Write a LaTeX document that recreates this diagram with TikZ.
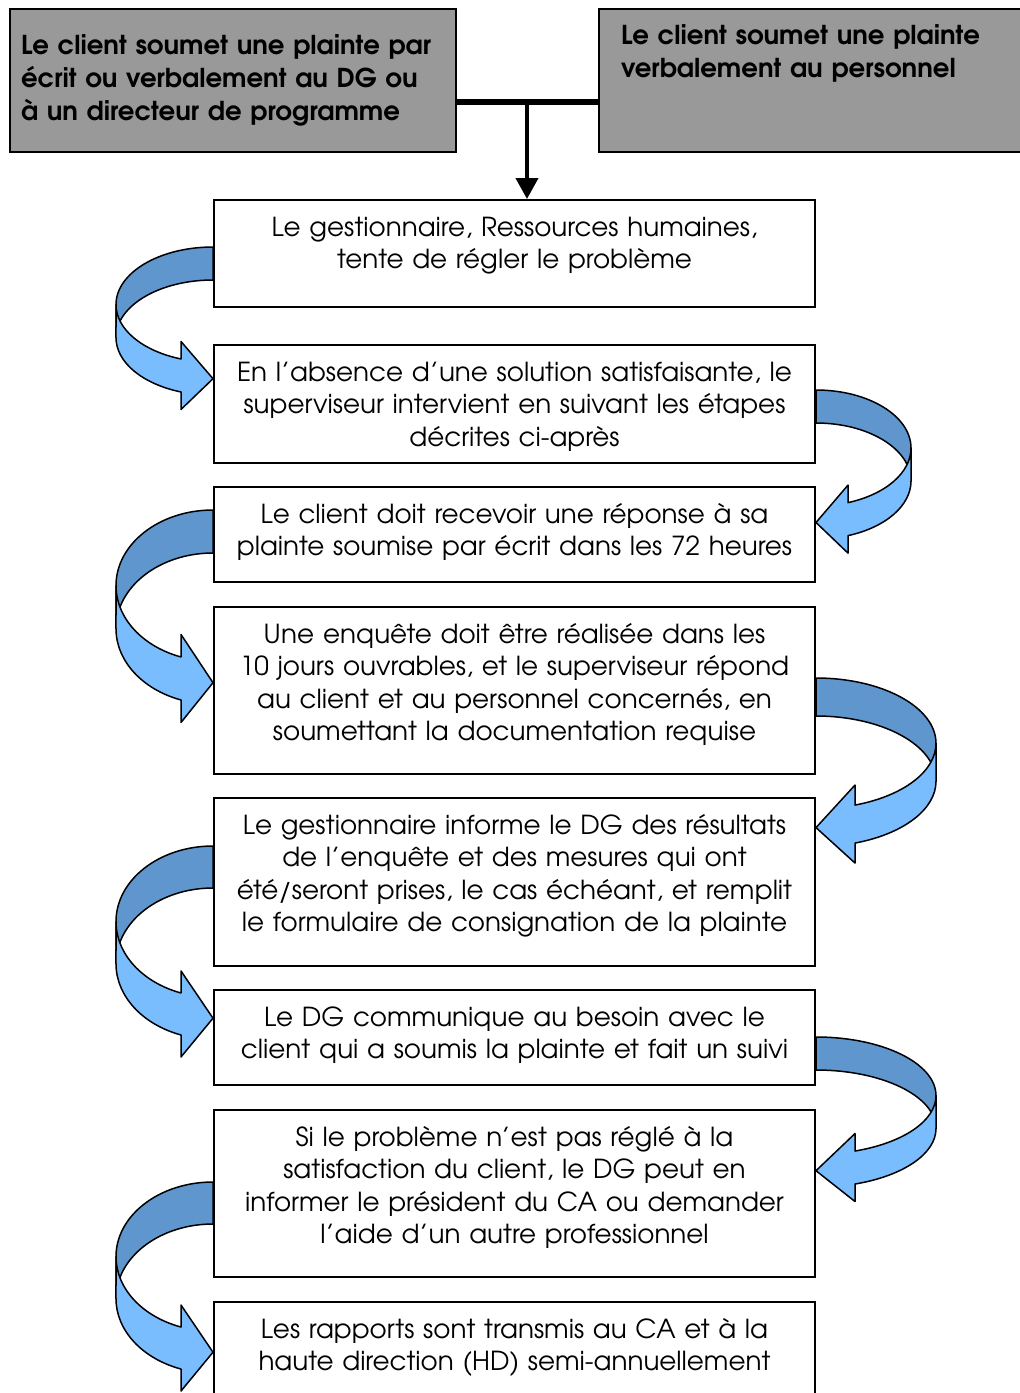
\documentclass[tikz,border=0pt]{standalone}
\usepackage{fontspec}
\setmainfont{TeX Gyre Adventor}
\usepackage{tikz}
\usetikzlibrary{arrows.meta, calc}
\definecolor{BandDark}{HTML}{5F96CE}
\definecolor{BandLight}{HTML}{7ABDFF}
\definecolor{BoxGray}{HTML}{999999}

% curved ribbon arrow: side (1 right, -1 left), start point, half height, band, reach, head length
\newcommand{\bentarrow}[6]{%
  \begin{scope}[shift={(#2)}, xscale=#1]
    \pgfmathsetmacro\bendang{acos(#6/#5)}
    \pgfmathsetmacro\benddy{#3*sin(\bendang)}
    \draw[backband] (0,0) arc[start angle=-90, end angle=0, x radius=#5, y radius=#3]
      -- ++(0,#4) arc[start angle=0, end angle=-90, x radius=#5, y radius=#3] -- cycle;
    \draw[frontband] (#5,#3) arc[start angle=0, end angle=\bendang, x radius=#5, y radius=#3]
      -- (#6,{#3+\benddy-#4/2-1}) -- (0,{2*#3+#4/2}) -- (#6,{#3+\benddy+1.5*#4+1})
      -- (#6,{#3+#4+\benddy}) arc[start angle=\bendang, end angle=0, x radius=#5, y radius=#3] -- cycle;
  \end{scope}}

\begin{document}
\begin{tikzpicture}[
    x=0.5pt, y=-0.5pt,
    source/.style={draw, line width=1pt, fill=BoxGray, anchor=north west, align=left,
      minimum height=71.5pt, font=\fontsize{13}{16.5}\selectfont\bfseries},
    stage/.style={draw, line width=1pt, fill=white, anchor=north, align=center,
      text width=290pt, inner xsep=5.25pt, inner ysep=8pt, text height=10pt,
      font=\fontsize{13.1}{16.25}\selectfont},
    backband/.style={draw, line width=0.75pt, fill=BandDark, line join=round},
    frontband/.style={draw, line width=0.75pt, fill=BandLight, line join=round},
    bar/.style={line width=3pt},
    drop/.style={line width=2pt, -{Triangle[length=10.5pt, width=11pt]}}
  ]
  \useasboundingbox (0,0) rectangle (1020,1393);

  % sources of a complaint
  \node[source, text width=212pt, inner xsep=5.5pt] (tl) at (9,8)
    {Le client soumet une plainte par\\ écrit ou verbalement au DG ou\\ à un directeur de programme};
  \node[source, text width=210pt, inner xsep=11pt, inner ysep=7.5pt, text depth=46pt] (tr) at (598,8)
    {Le client soumet une plainte\\ verbalement au personnel};

  % steps
  \node[stage, minimum height=53.5pt, text depth=27.5pt] (b1) at (514.5,199)
    {Le gestionnaire, Ressources humaines,\\ tente de régler le problème};
  \node[stage, minimum height=59pt, text depth=33pt] (b2) at (514.5,344)
    {En l’absence d’une solution satisfaisante, le\\ superviseur intervient en suivant les étapes\\ décrites ci-après};
  \node[stage, minimum height=47.5pt, text depth=21.5pt] (b3) at (514.5,486)
    {Le client doit recevoir une réponse à sa\\ plainte soumise par écrit dans les 72 heures};
  \node[stage, minimum height=83.5pt, text depth=57.5pt] (b4) at (514.5,606)
    {Une enquête doit être réalisée dans les\\ 10 jours ouvrables, et le superviseur répond\\ au client et au personnel concernés, en\\ soumettant la documentation requise};
  \node[stage, minimum height=84pt, text depth=58pt] (b5) at (514.5,797)
    {Le gestionnaire informe le DG des résultats\\ de l’enquête et des mesures qui ont\\ été/seront prises, le cas échéant, et remplit\\ le formulaire de consignation de la plainte};
  \node[stage, minimum height=47.5pt, text depth=21.5pt] (b6) at (514.5,989)
    {Le DG communique au besoin avec le\\ client qui a soumis la plainte et fait un suivi};
  \node[stage, minimum height=83.5pt, text depth=57.5pt] (b7) at (514.5,1109)
    {Si le problème n’est pas réglé à la\\ satisfaction du client, le DG peut en\\ informer le président du CA ou demander\\ l’aide d’un autre professionnel};
  \node[stage, minimum height=48pt, text depth=22pt] (b8) at (514.5,1301)
    {Les rapports sont transmis au CA et à la\\ haute direction (HD) semi-annuellement};

  % joining bar and drop arrow
  \coordinate (join) at (527,102);
  \draw[bar] (tl.east |- join) -- (tr.west |- join);
  \draw[drop] (join) -- (join |- b1.north);

  % curved arrows between the steps
  \bentarrow{-1}{$(b1.north west)+(0,48)$}{57.6}{33}{97}{32}
  \bentarrow{1}{$(b2.north east)+(0,46)$}{58}{33}{95}{32}
  \bentarrow{-1}{$(b3.north west)+(0,24)$}{75.6}{43}{97}{32}
  \bentarrow{1}{$(b4.north east)+(0,72)$}{65.3}{38}{120}{39}
  \bentarrow{-1}{$(b5.north west)+(0,49)$}{75.6}{42}{97}{32}
  \bentarrow{1}{$(b6.north east)+(0,48)$}{58.6}{33}{120}{39}
  \bentarrow{-1}{$(b7.north west)+(0,73)$}{74.6}{42}{97}{32}
\end{tikzpicture}
\end{document}
